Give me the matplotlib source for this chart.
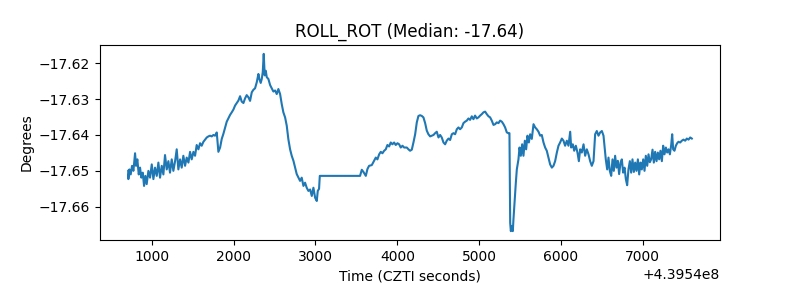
import matplotlib
matplotlib.use("Agg")
import matplotlib.pyplot as plt

T0 = 4.3954e8
title = "ROLL_ROT (Median: -17.64)"

# seconds after T0
time_rel = [
    712, 714, 727, 743, 759, 776, 796, 808, 824, 841, 857, 873, 890, 906, 922, 938,
    959, 979, 1000, 1020, 1040, 1061, 1081, 1101, 1122, 1142, 1162, 1183, 1203, 1223,
    1244, 1264, 1285, 1305, 1325, 1346, 1366, 1386, 1407, 1427, 1448, 1468, 1488, 1509,
    1529, 1549, 1570, 1590, 1610, 1631, 1651, 1672, 1692, 1712, 1733, 1753, 1773, 1794,
    1814, 1835, 1855, 1875, 1896, 1916, 1936, 1957, 1977, 1998, 2018, 2038, 2059, 2079,
    2099, 2120, 2140, 2160, 2181, 2201, 2222, 2242, 2262, 2283, 2303, 2315, 2331, 2344,
    2356, 2368, 2380, 2393, 2405, 2425, 2446, 2466, 2486, 2507, 2527, 2547, 2568, 2588,
    2608, 2629, 2649, 2669, 2690, 2710, 2731, 2751, 2771, 2792, 2812, 2832, 2853, 2873,
    2893, 2914,
    2935, 2955, 2975, 2996, 3016, 3028, 3044, 3053, 3545, 3566, 3586, 3615, 3635, 3655,
    3688, 3716, 3737, 3757, 3778, 3798, 3818, 3839, 3859, 3879, 3900, 3920, 3940, 3961,
    3981, 4002, 4022, 4042, 4063, 4083,
    4116, 4136, 4156, 4177, 4197, 4218, 4238, 4258, 4279, 4299, 4319, 4340, 4360, 4380,
    4401, 4421, 4442, 4462, 4482, 4503, 4523, 4543, 4564, 4584, 4604, 4625, 4645, 4666,
    4686, 4706, 4727, 4747, 4767, 4788, 4808, 4828, 4849, 4869, 4889, 4910, 4930, 4950,
    4971, 4991, 5012, 5032, 5052, 5073, 5093, 5114, 5134, 5154, 5175, 5195, 5215, 5236,
    5256, 5277, 5297, 5317, 5338, 5358, 5370, 5379, 5387, 5399, 5411, 5419, 5432, 5448,
    5460, 5480, 5493, 5509, 5525, 5541, 5558, 5574, 5590, 5607, 5623, 5643, 5664, 5684,
    5704, 5725, 5745, 5765, 5786, 5806, 5826, 5847, 5867, 5888, 5908, 5928, 5949, 5969,
    5989, 6010, 6030, 6050, 6071, 6091, 6112, 6124, 6144, 6161, 6181, 6201, 6218, 6234,
    6254, 6275, 6295, 6315, 6336, 6356, 6376, 6397,
    6417, 6437, 6458, 6478, 6499, 6519, 6531, 6547, 6564, 6580, 6596, 6613, 6629, 6645,
    6661, 6678, 6694, 6710, 6727, 6743, 6759, 6776, 6792, 6808, 6824, 6841, 6857, 6873,
    6890, 6906, 6922, 6939, 6955, 6971, 6987, 7004, 7020, 7036, 7053, 7069, 7085, 7101,
    7118, 7134, 7150, 7167, 7183, 7199, 7215, 7232, 7248, 7264, 7281, 7297, 7313, 7330,
    7346, 7358, 7370, 7386, 7403, 7419, 7435, 7456, 7476, 7496, 7517, 7537, 7558, 7578,
    7598,
]

roll = [
    -17.6500, -17.6523, -17.6496, -17.6510, -17.6486, -17.6500, -17.6451, -17.6486,
    -17.6468, -17.6510, -17.6491, -17.6519, -17.6505, -17.6542, -17.6514, -17.6537,
    -17.6500, -17.6519, -17.6482, -17.6523, -17.6491, -17.6514, -17.6477, -17.6519,
    -17.6486, -17.6510, -17.6456, -17.6496, -17.6473, -17.6505, -17.6468, -17.6500,
    -17.6473, -17.6440, -17.6496, -17.6468, -17.6491, -17.6458, -17.6486, -17.6463,
    -17.6477, -17.6447, -17.6468, -17.6447, -17.6458, -17.6428, -17.6440, -17.6423,
    -17.6430, -17.6419, -17.6413, -17.6407, -17.6404, -17.6402, -17.6404, -17.6400,
    -17.6402, -17.6393,
    -17.6447, -17.6435, -17.6411, -17.6397, -17.6379, -17.6363, -17.6354, -17.6344,
    -17.6337, -17.6329, -17.6318, -17.6311, -17.6304, -17.6292, -17.6307, -17.6311,
    -17.6298, -17.6289, -17.6295, -17.6305, -17.6281, -17.6274, -17.6270, -17.6253,
    -17.6230, -17.6244, -17.6255, -17.6244, -17.6225, -17.6174, -17.6234, -17.6221,
    -17.6239, -17.6244, -17.6261, -17.6270, -17.6279, -17.6276, -17.6286, -17.6272,
    -17.6286, -17.6314, -17.6337, -17.6351, -17.6374, -17.6412, -17.6440, -17.6458,
    -17.6472, -17.6491, -17.6509, -17.6519, -17.6528, -17.6519, -17.6542, -17.6533,
    -17.6547, -17.6556,
    -17.6552, -17.6570, -17.6547, -17.6575, -17.6584, -17.6556, -17.6550, -17.6514,
    -17.6514, -17.6497, -17.6503, -17.6514, -17.6495, -17.6486, -17.6484, -17.6472,
    -17.6463, -17.6468, -17.6454, -17.6447, -17.6451, -17.6444, -17.6440, -17.6428,
    -17.6432, -17.6421, -17.6426, -17.6421, -17.6428, -17.6423, -17.6426, -17.6435,
    -17.6430, -17.6435,
    -17.6435, -17.6440, -17.6444, -17.6441, -17.6421, -17.6398, -17.6365, -17.6347,
    -17.6345, -17.6347, -17.6351, -17.6367, -17.6388, -17.6398, -17.6404, -17.6402,
    -17.6400, -17.6395, -17.6391, -17.6407, -17.6400, -17.6407, -17.6421, -17.6426,
    -17.6416, -17.6410, -17.6414, -17.6398, -17.6395, -17.6398, -17.6384, -17.6379,
    -17.6384, -17.6379, -17.6367, -17.6363, -17.6360, -17.6354, -17.6358, -17.6348,
    -17.6356, -17.6346, -17.6354, -17.6351, -17.6346, -17.6342, -17.6337, -17.6335,
    -17.6342, -17.6348, -17.6351, -17.6360, -17.6372, -17.6370, -17.6365, -17.6367,
    -17.6360, -17.6363, -17.6370, -17.6379, -17.6393, -17.6395, -17.6395, -17.6645,
    -17.6668, -17.6654, -17.6668, -17.6635, -17.6589, -17.6533, -17.6496, -17.6468,
    -17.6435, -17.6458, -17.6426, -17.6458, -17.6416, -17.6440, -17.6402, -17.6421,
    -17.6398, -17.6411, -17.6370, -17.6379, -17.6384, -17.6391, -17.6402, -17.6400,
    -17.6421, -17.6435, -17.6444, -17.6463, -17.6482, -17.6491, -17.6486, -17.6473,
    -17.6449, -17.6430, -17.6421, -17.6410, -17.6416, -17.6430, -17.6416, -17.6430,
    -17.6391, -17.6435, -17.6426, -17.6444, -17.6430, -17.6449, -17.6473, -17.6440,
    -17.6449, -17.6426, -17.6458, -17.6440, -17.6454, -17.6473, -17.6486, -17.6473,
    -17.6398, -17.6389, -17.6402, -17.6393, -17.6389, -17.6402, -17.6430, -17.6468,
    -17.6496, -17.6463, -17.6500, -17.6514, -17.6468, -17.6500, -17.6458, -17.6491,
    -17.6472, -17.6509, -17.6477, -17.6468, -17.6505, -17.6491, -17.6523, -17.6540,
    -17.6496, -17.6473, -17.6505, -17.6468, -17.6503, -17.6477, -17.6500, -17.6468,
    -17.6510, -17.6477, -17.6496, -17.6468, -17.6500, -17.6458, -17.6486, -17.6454,
    -17.6476, -17.6468, -17.6441, -17.6477, -17.6447, -17.6473, -17.6449, -17.6468,
    -17.6444, -17.6473, -17.6430, -17.6454, -17.6435, -17.6449, -17.6440, -17.6454,
    -17.6428, -17.6398, -17.6440, -17.6444, -17.6430, -17.6423, -17.6419, -17.6421,
    -17.6416, -17.6413, -17.6416, -17.6410, -17.6413, -17.6407, -17.6410,
]

time_abs = [T0 + t for t in time_rel]

fig, ax = plt.subplots(figsize=(8, 3), dpi=100)
fig.subplots_adjust(left=0.125, right=0.9, top=0.85, bottom=0.2)

ax.plot(time_abs, roll, color='C0')
ax.set_title(title)
ax.set_xlabel("Time (CZTI seconds)")
ax.set_ylabel("Degrees")

fig.savefig("out.png")
